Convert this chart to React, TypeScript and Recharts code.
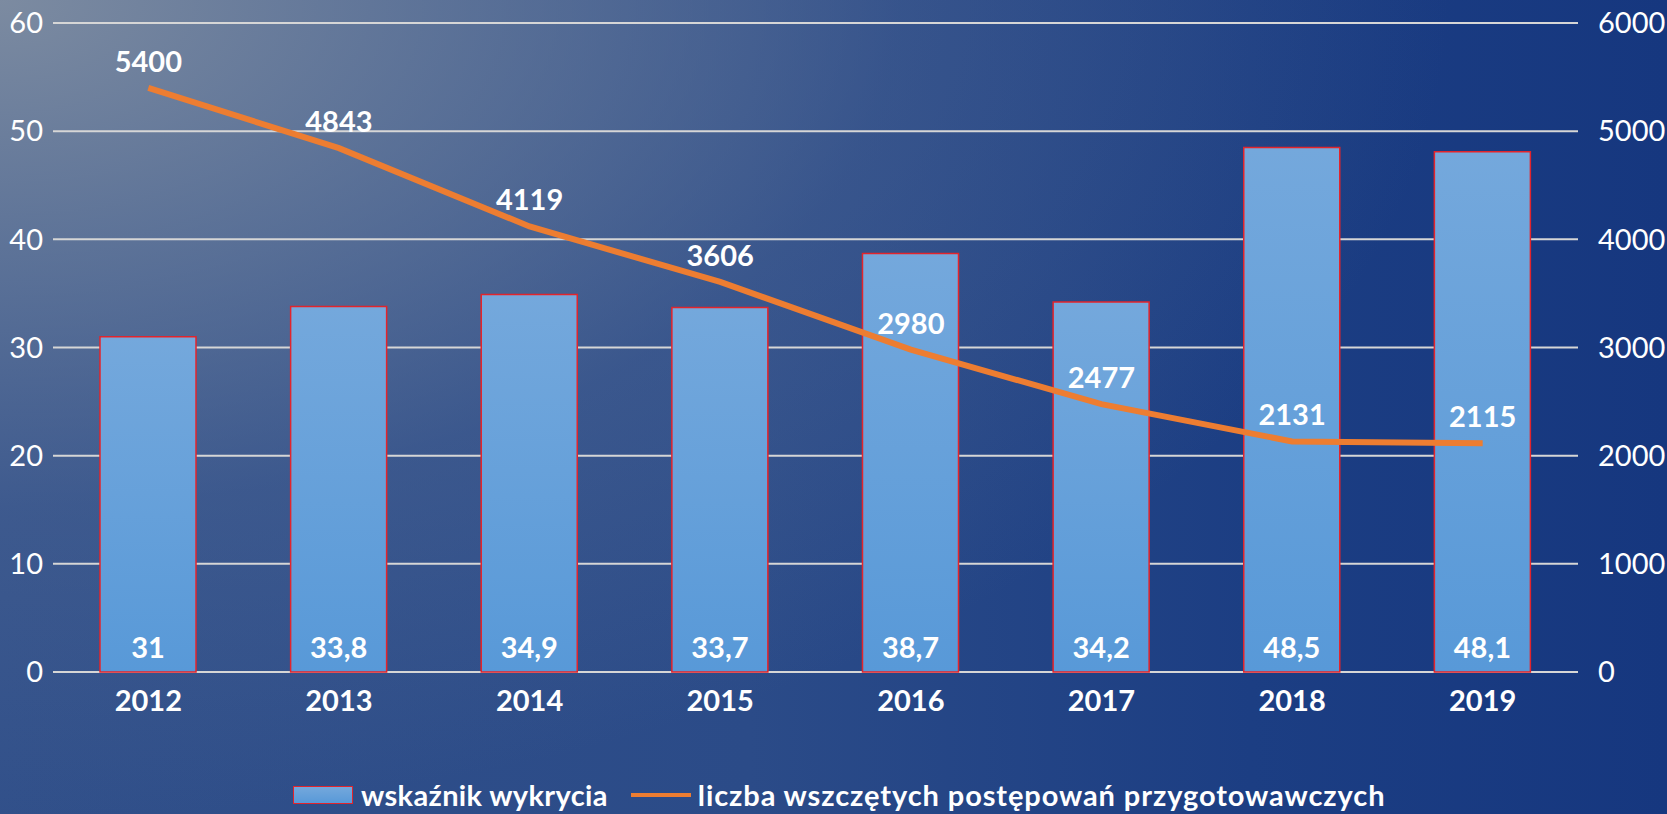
import React from "react";
import {
  Bar,
  CartesianGrid,
  ComposedChart,
  LabelList,
  Line,
  XAxis,
  YAxis,
} from "recharts";

const YEARS = ["2012", "2013", "2014", "2015", "2016", "2017", "2018", "2019"];
const DETECTION_RATE = [31, 33.8, 34.9, 33.7, 38.7, 34.2, 48.5, 48.1];
const PROCEEDINGS = [5400, 4843, 4119, 3606, 2980, 2477, 2131, 2115];
const LEFT_TICKS = [0, 10, 20, 30, 40, 50, 60];
const RIGHT_TICKS = [0, 1000, 2000, 3000, 4000, 5000, 6000];
const BAR_LABEL = "wskaźnik wykrycia";
const LINE_LABEL = "liczba wszczętych postępowań przygotowawczych";

const FONT = "Lato, 'Open Sans', 'DejaVu Sans', sans-serif";
const ORANGE = "#ed7d31";
const BAR_RED = "#e3242b";

const data = YEARS.map((year, i) => ({
  year,
  rate: DETECTION_RATE[i],
  cases: PROCEEDINGS[i],
}));

const fmtComma = (v: unknown) => String(v).replace(".", ",");

export default function App() {
  return (
    <div
      style={{
        position: "fixed",
        left: 0,
        top: 0,
        width: 1667,
        height: 814,
        fontFamily: FONT,
        background:
          "radial-gradient(ellipse 1450px 820px at 0px 0px, rgba(128,142,162,0.95) 0%, rgba(112,130,158,0.7) 30%, rgba(85,108,150,0.35) 62%, rgba(60,90,140,0) 100%), linear-gradient(90deg, #31508a 0%, #2b4b88 45%, #1c3e83 75%, #16377f 100%)",
      }}
    >
      <ComposedChart
        width={1667}
        height={814}
        data={data}
        margin={{ top: 23, right: 0, left: 0, bottom: 0 }}
        barSize={96}
      >
        <defs>
          <linearGradient id="barFill" x1="0" y1="0" x2="0" y2="1">
            <stop offset="0%" stopColor="#74a8dc" />
            <stop offset="100%" stopColor="#5899d8" />
          </linearGradient>
        </defs>
        <CartesianGrid
          yAxisId="left"
          vertical={false}
          stroke="#d6d6d6"
          strokeWidth={2}
        />
        <XAxis
          dataKey="year"
          axisLine={false}
          tickLine={false}
          height={142}
          tickMargin={12}
          tick={{ fill: "#ffffff", fontSize: 29, fontWeight: 700 }}
        />
        <YAxis
          yAxisId="left"
          domain={[0, 60]}
          ticks={LEFT_TICKS}
          width={53}
          axisLine={false}
          tickLine={false}
          tickMargin={4}
          interval={0}
          tick={{ fill: "#ffffff", fontSize: 29 }}
        />
        <YAxis
          yAxisId="right"
          orientation="right"
          domain={[0, 6000]}
          ticks={RIGHT_TICKS}
          width={89}
          axisLine={false}
          tickLine={false}
          tickMargin={14}
          interval={0}
          tick={{ fill: "#ffffff", fontSize: 29, textAnchor: "start" }}
        />
        <Bar
          yAxisId="left"
          dataKey="rate"
          fill="url(#barFill)"
          stroke={BAR_RED}
          strokeWidth={1.5}
          isAnimationActive={false}
        >
          <LabelList
            dataKey="rate"
            position="insideBottom"
            offset={14}
            formatter={fmtComma}
            fill="#ffffff"
            fontSize={29}
            fontWeight={700}
          />
        </Bar>
        <Line
          yAxisId="right"
          type="linear"
          dataKey="cases"
          stroke={ORANGE}
          strokeWidth={6}
          dot={false}
          activeDot={false}
          isAnimationActive={false}
        >
          <LabelList
            dataKey="cases"
            position="top"
            offset={16}
            fill="#ffffff"
            fontSize={29}
            fontWeight={700}
          />
        </Line>
      </ComposedChart>

      {/* legend */}
      <div
        style={{
          position: "absolute",
          left: 293,
          top: 780,
          display: "flex",
          alignItems: "center",
          color: "#ffffff",
          fontWeight: 700,
          fontSize: 29,
          lineHeight: "30px",
          whiteSpace: "nowrap",
        }}
      >
        <span
          style={{
            width: 58,
            height: 16,
            border: `1.5px solid ${BAR_RED}`,
            background: "linear-gradient(180deg, #74a8dc, #5899d8)",
            marginRight: 8,
          }}
        />
        <span style={{ letterSpacing: 0.35 }}>{BAR_LABEL}</span>
        <span
          style={{
            width: 60,
            height: 4,
            background: ORANGE,
            marginLeft: 23,
            marginRight: 7,
          }}
        />
        <span style={{ letterSpacing: 0.9 }}>{LINE_LABEL}</span>
      </div>
    </div>
  );
}
